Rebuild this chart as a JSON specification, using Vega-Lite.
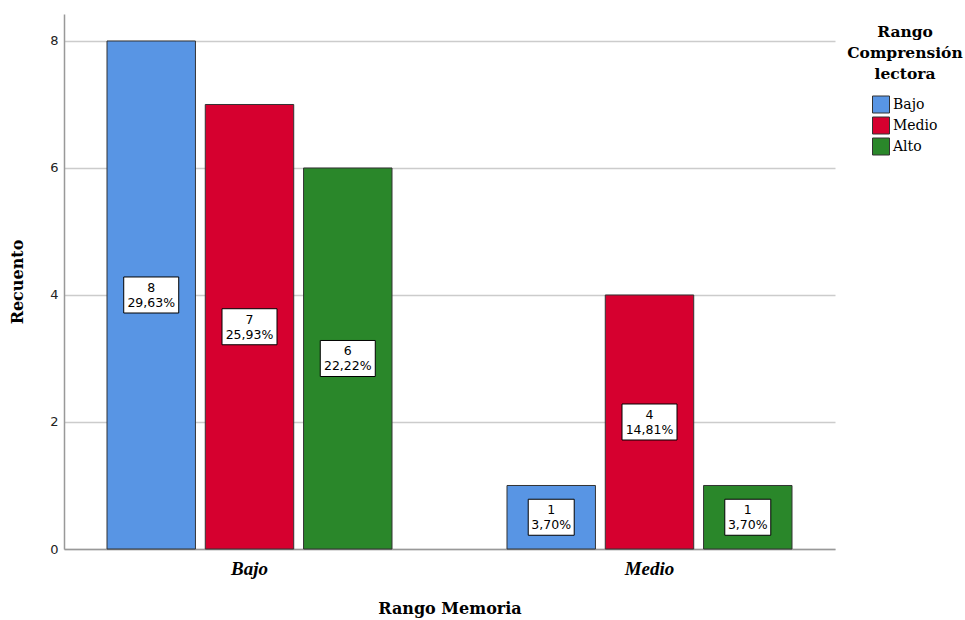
{
  "$schema": "https://vega.github.io/schema/vega-lite/v6.json",
  "width": 771,
  "height": 535,
  "autosize": {"type": "none"},
  "padding": {"left": 64, "top": 14, "right": 130, "bottom": 71},
  "background": "white",
  "config": {"view": {"stroke": null}},
  "data": {
    "values": [
      {"memoria": "Bajo", "comprension": "Bajo", "recuento": 8, "porcentaje": "29,63%"},
      {"memoria": "Bajo", "comprension": "Medio", "recuento": 7, "porcentaje": "25,93%"},
      {"memoria": "Bajo", "comprension": "Alto", "recuento": 6, "porcentaje": "22,22%"},
      {"memoria": "Medio", "comprension": "Bajo", "recuento": 1, "porcentaje": "3,70%"},
      {"memoria": "Medio", "comprension": "Medio", "recuento": 4, "porcentaje": "14,81%"},
      {"memoria": "Medio", "comprension": "Alto", "recuento": 1, "porcentaje": "3,70%"}
    ]
  },
  "encoding": {
    "x": {
      "field": "memoria",
      "type": "nominal",
      "sort": ["Bajo", "Medio"],
      "scale": {"paddingInner": 0.2875, "paddingOuter": 0.1075, "align": 0.5},
      "axis": {
        "title": "Rango Memoria",
        "labelAngle": 0,
        "labelFont": "Liberation Serif",
        "labelFontStyle": "italic",
        "labelFontWeight": "bold",
        "labelFontSize": 19,
        "labelColor": "#000000",
        "labelPadding": 10,
        "ticks": false,
        "domainColor": "#999999",
        "domainWidth": 1.5,
        "titleFont": "DejaVu Serif",
        "titleFontWeight": "bold",
        "titleFontSize": 16,
        "titleColor": "#000000",
        "titlePadding": 22
      }
    },
    "xOffset": {
      "field": "comprension",
      "type": "nominal",
      "sort": ["Bajo", "Medio", "Alto"],
      "scale": {"paddingInner": 0.1, "paddingOuter": 0}
    }
  },
  "layer": [
    {
      "mark": {"type": "bar", "stroke": "#333333", "strokeWidth": 1, "opacity": 1},
      "encoding": {
        "y": {
          "field": "recuento",
          "type": "quantitative",
          "scale": {"domain": [0, 8.425], "nice": false},
          "axis": {
            "title": "Recuento",
            "values": [0, 2, 4, 6, 8],
            "format": "d",
            "grid": true,
            "gridColor": "#cccccc",
            "gridWidth": 1.5,
            "ticks": false,
            "domainColor": "#999999",
            "domainWidth": 1.5,
            "labelFont": "DejaVu Sans",
            "labelFontSize": 13,
            "labelColor": "#222222",
            "labelPadding": 6,
            "titleFont": "DejaVu Serif",
            "titleFontSize": 16,
            "titleFontWeight": "bold",
            "titleColor": "#000000",
            "titlePadding": 24
          }
        },
        "color": {
          "field": "comprension",
          "type": "nominal",
          "scale": {"domain": ["Bajo", "Medio", "Alto"], "range": ["#5895e4", "#d6002f", "#2a872a"]},
          "legend": {
            "title": ["Rango", "Comprensión", "lectora"],
            "orient": "none",
            "legendX": 783,
            "legendY": 11,
            "titleFont": "DejaVu Serif",
            "titleFontSize": 15.5,
            "titleFontWeight": "bold",
            "titleColor": "#000000",
            "titleAlign": "center",
            "titleAnchor": "middle",
            "titleLineHeight": 21,
            "titlePadding": 13,
            "symbolType": "square",
            "symbolSize": 289,
            "symbolStrokeColor": "#333333",
            "symbolStrokeWidth": 1,
            "symbolOpacity": 1,
            "labelFont": "DejaVu Serif",
            "labelFontSize": 14,
            "labelColor": "#000000",
            "labelOffset": 3,
            "rowPadding": -1
          }
        }
      }
    },
    {
      "transform": [{"calculate": "datum.recuento / 2", "as": "mitad"}],
      "mark": {"type": "point", "filled": true, "fill": "white", "stroke": "black", "strokeWidth": 1, "opacity": 1, "size": 3025},
      "encoding": {
        "y": {"field": "mitad", "type": "quantitative"},
        "shape": {
          "condition": {"test": "datum.recuento < 2", "value": "M-0.836,-0.655H0.836V0.655H-0.836Z"},
          "value": "M-1,-0.655H1V0.655H-1Z"
        }
      }
    },
    {
      "transform": [
        {"calculate": "datum.recuento / 2", "as": "mitad"},
        {"calculate": "['' + datum.recuento, datum.porcentaje]", "as": "etiqueta"}
      ],
      "mark": {"type": "text", "font": "DejaVu Sans", "fontSize": 12.5, "lineHeight": 15, "baseline": "middle", "align": "center", "dy": -7, "color": "black"},
      "encoding": {
        "y": {"field": "mitad", "type": "quantitative"},
        "text": {"field": "etiqueta"}
      }
    }
  ]
}
